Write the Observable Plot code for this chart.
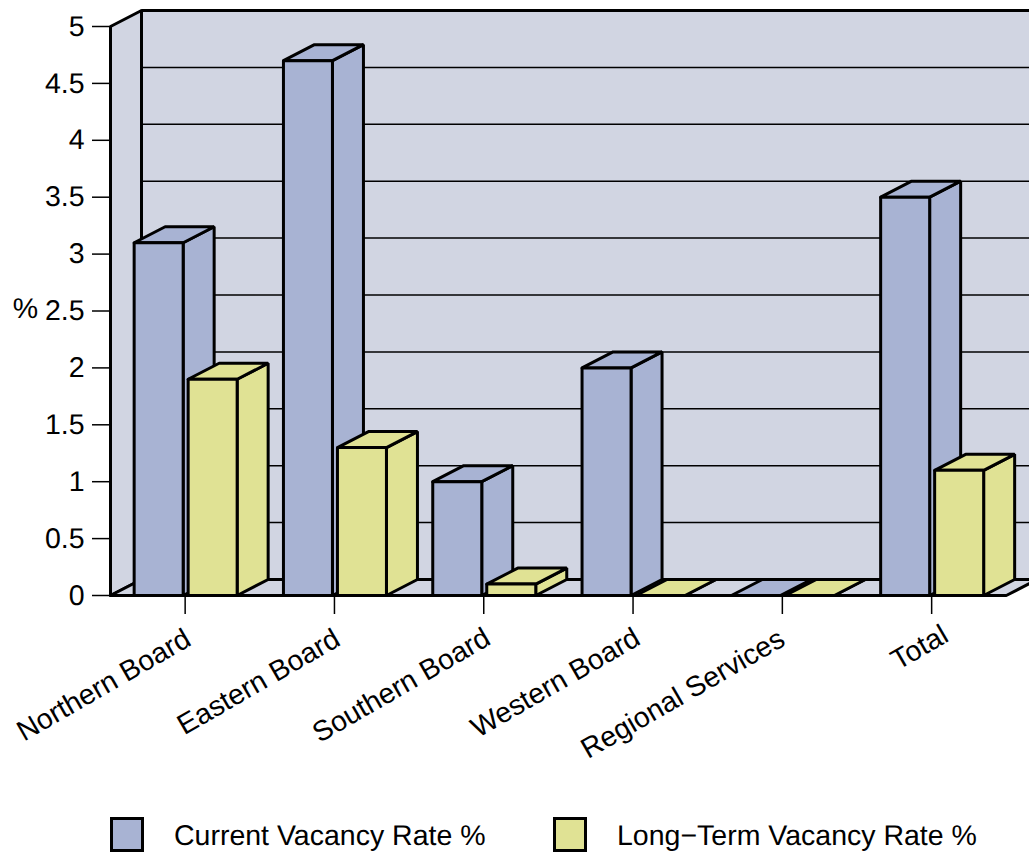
<!DOCTYPE html>
<html>
<head>
<meta charset="utf-8">
<script src="https://cdn.jsdelivr.net/npm/d3@7"></script>
<script src="https://cdn.jsdelivr.net/npm/@observablehq/plot@0.6"></script>
<style>
  html, body { margin: 0; padding: 0; background: #fff; overflow: hidden; }
  body { width: 1029px; height: 854px; position: relative; font-family: "Liberation Sans", Arial, sans-serif; color: #000; text-rendering: geometricPrecision; }
  #chart svg { display: block; text-rendering: geometricPrecision; }
  .legend-item { position: absolute; top: 817px; height: 35px; display: flex; align-items: center; font-size: 28.5px; white-space: nowrap; }
  .swatch { width: 34px; height: 35px; box-sizing: border-box; border: 3.5px solid #000; }
  .legend-item span { margin-left: 30px; position: relative; top: 1.5px; }
</style>
</head>
<body>
<div id="chart"></div>
<script>
// Vacancy rates by board
const categories = ["Northern Board", "Eastern Board", "Southern Board", "Western Board", "Regional Services", "Total"];
const currentRate = [3.1, 4.7, 1.0, 2.0, 0, 3.5];
const longTermRate = [1.9, 1.3, 0.1, 0, 0, 1.1];
const seriesNames = ["Current Vacancy Rate %", "Long\u2212Term Vacancy Rate %"];
const yTicks = [0, 0.5, 1, 1.5, 2, 2.5, 3, 3.5, 4, 4.5, 5];

const wallColor = "#d1d5e2";
const currentColor = "#a8b3d3";
const longTermColor = "#e0e294";

// Oblique projection: how far the depth axis shifts, in x and y scale units
const depthX = 31 / 149.3;
const depthY = 16 / 113.8;
const barWidth = 49 / 149.3;
const currentOffset = -51 / 149.3;
const longTermOffset = 3 / 149.3;
const xMin = -0.5, xMax = 5.5, xBeyond = 6;

// Pixel nudges for the slanted category labels, from the tick at each category
const labelDx = [3, 3, 4, 4.5, 0, 14];
const labelDy = [41, 41, 40, 40, 41, 37];

// Closed polygons, drawn back to front in this order
const faces = [];
let faceId = 0;
function face(fill, pts) {
  const id = faceId++;
  [...pts, pts[0]].forEach(([x, y]) => faces.push({id, fill, x, y}));
}
function box(x0, value, fill) {
  const x1 = x0 + barWidth;
  face(fill, [[x1, 0], [x1 + depthX, depthY], [x1 + depthX, value + depthY], [x1, value]]);
  face(fill, [[x0, value], [x0 + depthX, value + depthY], [x1 + depthX, value + depthY], [x1, value]]);
  face(fill, [[x0, 0], [x1, 0], [x1, value], [x0, value]]);
}

face(wallColor, [[xMin, 0], [xMin + depthX, depthY], [xMin + depthX, 5 + depthY], [xMin, 5]]);
face(wallColor, [[xMin + depthX, depthY], [xBeyond, depthY], [xBeyond, 5 + depthY], [xMin + depthX, 5 + depthY]]);

const gridLines = yTicks.slice(1, -1).flatMap((t) => [
  {t, x: xMin + depthX, y: t + depthY},
  {t, x: xBeyond, y: t + depthY}
]);

const floorFaces = [];
{
  const id = "floor";
  [[xMin, 0], [xMax, 0], [xMax + depthX, depthY], [xMin + depthX, depthY], [xMin, 0]]
    .forEach(([x, y]) => floorFaces.push({id, x, y}));
}

categories.forEach((_, i) => {
  box(i + currentOffset, currentRate[i], currentColor);
  box(i + longTermOffset, longTermRate[i], longTermColor);
});

const chart = Plot.plot({
  width: 1029,
  height: 800,
  marginLeft: 110,
  marginRight: 0,
  marginTop: 0,
  marginBottom: 205,
  style: {fontFamily: "'Liberation Sans', Arial, sans-serif", background: "transparent", color: "#000"},
  x: {domain: [xMin, xMax], range: [110, 1005.8]},
  y: {domain: [0, 5], range: [595, 26]},
  marks: [
    Plot.axisY({
      ticks: yTicks, tickSize: 18, tickPadding: 8, fontSize: 28.5, label: null,
      tickFormat: (d) => String(d), strokeWidth: 1.5, strokeOpacity: 1
    }),
    Plot.axisX({
      ticks: d3.range(categories.length), tickSize: 19, label: null, fill: "none",
      strokeWidth: 1.5, strokeOpacity: 1
    }),
    categories.map((name, i) => Plot.text([name], {
      x: [i], y: [0], text: (d) => d, rotate: -30, textAnchor: "end", lineAnchor: "middle",
      dx: labelDx[i], dy: labelDy[i], fontSize: 28.5, fill: "#000"
    })),
    Plot.text(["%"], {x: [xMin - 85 / 149.3], y: [2.52], fontSize: 28.5, fill: "#000"}),
    Plot.line(faces.filter((d) => d.id < 2), {
      x: "x", y: "y", z: "id", fill: "fill", stroke: "#000", strokeWidth: 3,
      strokeLinejoin: "miter"
    }),
    Plot.line(gridLines, {x: "x", y: "y", z: "t", stroke: "#000", strokeWidth: 1.5}),
    Plot.line(floorFaces, {
      x: "x", y: "y", z: "id", fill: wallColor, stroke: "#000", strokeWidth: 3,
      strokeLinejoin: "miter"
    }),
    Plot.line(faces.filter((d) => d.id >= 2), {
      x: "x", y: "y", z: "id", fill: "fill", stroke: "#000", strokeWidth: 3,
      strokeLinejoin: "miter"
    })
  ]
});
document.getElementById("chart").append(chart);

// Legend below the plot
[[seriesNames[0], currentColor, 110], [seriesNames[1], longTermColor, 553]].forEach(([name, color, left]) => {
  const item = document.createElement("div");
  item.className = "legend-item";
  item.style.left = left + "px";
  const swatch = document.createElement("div");
  swatch.className = "swatch";
  swatch.style.background = color;
  const label = document.createElement("span");
  label.textContent = name;
  item.append(swatch, label);
  document.body.append(item);
});
</script>
</body>
</html>
